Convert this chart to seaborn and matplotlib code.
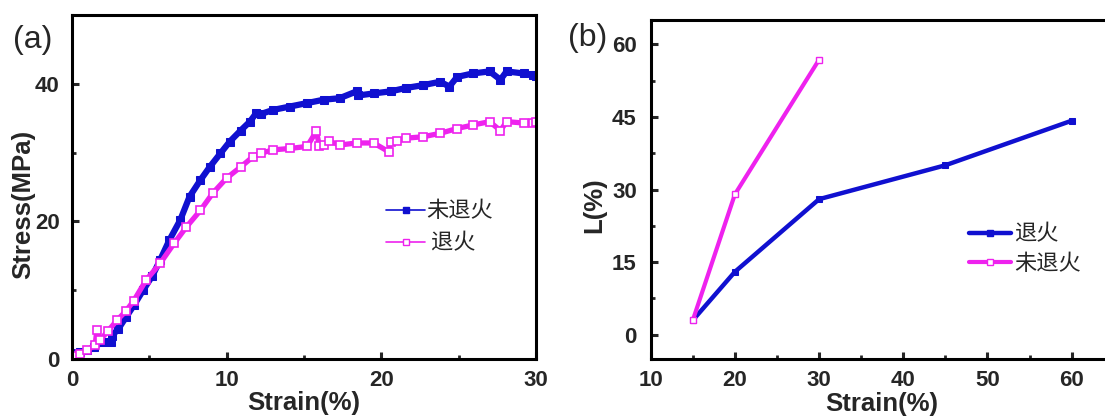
import matplotlib
matplotlib.use("Agg")
import matplotlib.pyplot as plt
import seaborn as sns
import pandas as pd
from matplotlib.lines import Line2D
from matplotlib.ticker import MultipleLocator

# ---------------- data: panel (a) stress-strain ----------------
a_blue_x = [0.0, 0.1, 0.5, 1.0, 1.4, 2.0, 2.5, 2.6, 3.0, 3.5, 4.0, 4.6, 5.2, 5.7, 6.3, 7.0,
            7.6, 8.3, 8.9, 9.6, 10.2, 10.9, 11.5, 11.9, 12.2, 13.0, 14.1, 15.2, 16.3, 17.3,
            18.4, 18.5, 19.5, 20.6, 21.6, 22.7, 23.8, 24.4, 24.9, 25.9, 27.0, 27.7, 28.1,
            29.2, 29.8, 30.0]
a_blue_y = [0.0, 0.8, 1.0, 1.3, 1.7, 2.5, 2.5, 3.4, 4.4, 6.1, 7.8, 10.0, 12.1, 14.4, 17.3, 20.2,
            23.6, 26.0, 27.9, 29.9, 31.6, 33.2, 34.5, 35.7, 35.6, 36.2, 36.7, 37.2, 37.7, 37.9,
            38.9, 38.3, 38.6, 38.9, 39.4, 39.8, 40.3, 39.6, 41.0, 41.5, 41.8, 40.6, 41.8,
            41.5, 41.3, 41.2]

a_pink_x = [0.0, 0.1, 0.5, 1.0, 1.5, 1.6, 1.8, 2.3, 2.9, 3.5, 4.0, 4.8, 5.7, 6.6, 7.4, 8.3,
            9.1, 10.0, 10.9, 11.7, 12.2, 13.0, 14.1, 15.2, 15.8, 16.0, 16.3, 16.6, 17.3, 18.4,
            19.5, 20.5, 20.6, 21.0, 21.6, 22.7, 23.8, 24.9, 25.9, 27.0, 27.7, 28.1, 29.2,
            29.8, 30.0]
a_pink_y = [0.0, 0.5, 0.7, 1.3, 2.0, 4.2, 2.7, 4.0, 5.6, 7.0, 8.5, 11.5, 13.9, 16.8, 19.2, 21.6,
            24.1, 26.3, 27.9, 29.4, 29.9, 30.4, 30.6, 30.9, 33.1, 30.9, 31.1, 31.7, 31.1, 31.4,
            31.4, 30.1, 31.6, 31.7, 32.1, 32.3, 32.8, 33.5, 34.0, 34.5, 33.2, 34.5, 34.3,
            34.3, 34.4]

a_labels = ["未退火", " 退火"]

# ---------------- data: panel (b) L vs strain ----------------
b_blue_x = [15, 20, 30, 45, 60]
b_blue_y = [3, 13, 28, 35, 44.2]
b_pink_x = [15, 20, 30]
b_pink_y = [3, 29, 56.8]
b_labels = ["退火", "未退火"]

a_xticks = [0, 10, 20, 30]
a_yticks = [0, 20, 40]
b_xticks = [10, 20, 30, 40, 50, 60]
b_yticks = [0, 15, 30, 45, 60]

BLUE = "#1010d0"
PINK = "#ee22ee"
CJK = ["Noto Sans CJK SC"]

sns.set_theme(style="ticks")
plt.rcParams["font.family"] = ["Liberation Sans", "Noto Sans CJK SC", "DejaVu Sans"]
plt.rcParams["axes.linewidth"] = 2.2

fig = plt.figure(figsize=(11.05, 4.18), dpi=100)
ax1 = fig.add_axes([72 / 1105, 1 - 359 / 418, 464 / 1105, 344 / 418])
ax2 = fig.add_axes([650.7 / 1105, 1 - 359 / 418, 463 / 1105, 339 / 418])

# ---- panel a ----
dfa1 = pd.DataFrame({"x": a_blue_x, "y": a_blue_y})
dfa2 = pd.DataFrame({"x": a_pink_x, "y": a_pink_y})
sns.lineplot(data=dfa1, x="x", y="y", ax=ax1, sort=False, color=BLUE, lw=4.5,
             marker="s", markersize=6, markeredgecolor=BLUE, markerfacecolor=BLUE,
             estimator=None)
sns.lineplot(data=dfa2, x="x", y="y", ax=ax1, sort=False, color=PINK, lw=3.8,
             marker="s", markersize=5.5, markeredgecolor=PINK, markerfacecolor="white",
             markeredgewidth=1.2, estimator=None)
ax1.set_xlim(0, 30)
ax1.set_ylim(0, 50)
ax1.set_xticks(a_xticks)
ax1.set_yticks(a_yticks)
ax1.xaxis.set_minor_locator(MultipleLocator(5))
ax1.yaxis.set_minor_locator(MultipleLocator(10))
ax1.set_xlabel("Strain(%)", fontsize=18.5, fontweight="bold", labelpad=0)
ax1.set_ylabel("Stress(MPa)", fontsize=18.5, fontweight="bold")
ax1.yaxis.set_label_coords(-37 / 464, 0.448)

h1 = [Line2D([], [], color=BLUE, lw=1.2, marker="s", markersize=5, markerfacecolor=BLUE),
      Line2D([], [], color=PINK, lw=1.2, marker="s", markersize=5, markerfacecolor="white")]
ax1.legend(h1, a_labels, loc="center left", bbox_to_anchor=(0.634, 0.384),
           frameon=False, handlelength=1.75, handletextpad=0.05, labelspacing=0.4,
           prop={"family": CJK, "size": 16})

# ---- panel b ----
dfb1 = pd.DataFrame({"x": b_blue_x, "y": b_blue_y})
dfb2 = pd.DataFrame({"x": b_pink_x, "y": b_pink_y})
sns.lineplot(data=dfb1, x="x", y="y", ax=ax2, sort=False, color=BLUE, lw=3.2,
             marker="s", markersize=5, markeredgecolor=BLUE, markerfacecolor=BLUE,
             estimator=None)
sns.lineplot(data=dfb2, x="x", y="y", ax=ax2, sort=False, color=PINK, lw=3.0,
             marker="s", markersize=5, markeredgecolor=PINK, markerfacecolor="white",
             markeredgewidth=1.0, estimator=None)
ax2.set_xlim(10, 65)
ax2.set_ylim(-5, 65)
ax2.set_xticks(b_xticks)
ax2.set_yticks(b_yticks)
ax2.xaxis.set_minor_locator(MultipleLocator(5))
ax2.yaxis.set_minor_locator(MultipleLocator(7.5))
ax2.set_xlabel("Strain(%)", fontsize=18.5, fontweight="bold", labelpad=1)
ax2.set_ylabel("L(%)", fontsize=18.5, fontweight="bold")
ax2.yaxis.set_label_coords(-44 / 463, 0.454)

h2 = [Line2D([], [], color=BLUE, lw=3.2, marker="s", markersize=4, markerfacecolor=BLUE),
      Line2D([], [], color=PINK, lw=3.0, marker="s", markersize=4, markerfacecolor="white")]
ax2.legend(h2, b_labels, loc="center left", bbox_to_anchor=(0.644, 0.325),
           frameon=False, handlelength=1.9, handletextpad=0.15, labelspacing=0.3,
           prop={"family": CJK, "size": 16})

for ax in (ax1, ax2):
    ax.tick_params(which="major", direction="in", length=5, width=2.2,
                   labelsize=16, pad=8, top=False, right=False)
    ax.tick_params(which="minor", direction="in", length=3, width=2, top=False, right=False)
    for lab in ax.get_xticklabels() + ax.get_yticklabels():
        lab.set_fontweight("bold")
    for s in ax.spines.values():
        s.set_linewidth(2.2)
        s.set_color("black")
ax1.tick_params(axis="y", which="major", pad=9)
ax2.tick_params(axis="y", which="major", pad=10)

fig.text(33 / 1105, 1 - 40 / 418, "(a)", fontsize=23, ha="center", va="center")
fig.text(588 / 1105, 1 - 38 / 418, "(b)", fontsize=23, ha="center", va="center")

fig.savefig("out.png", dpi=100, facecolor="white")
